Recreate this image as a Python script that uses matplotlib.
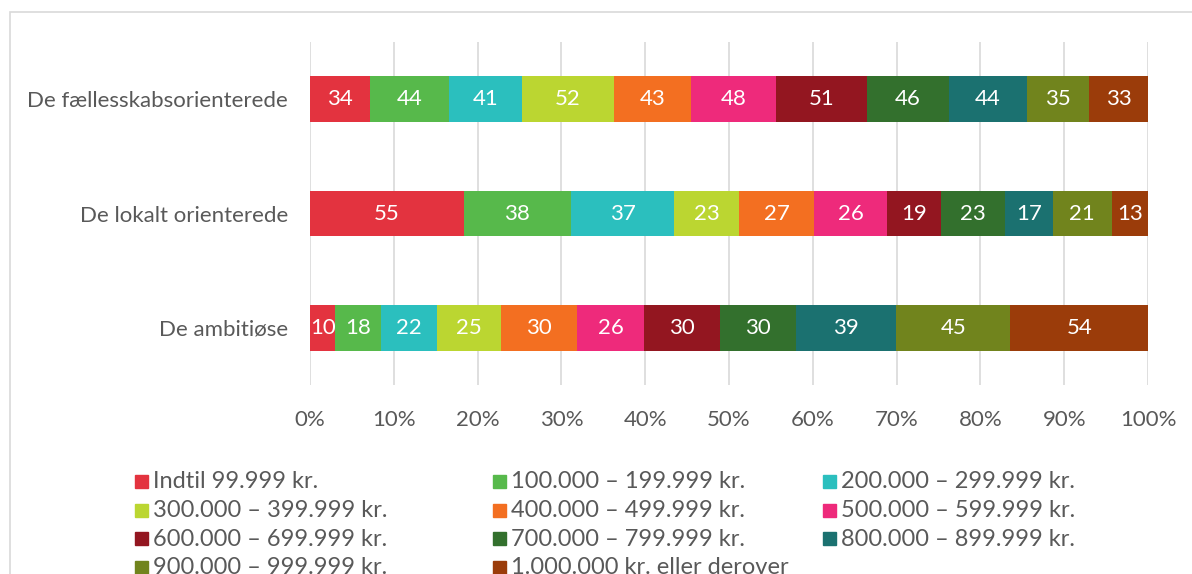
import matplotlib.pyplot as plt
from matplotlib.patches import Rectangle

plt.rcParams['font.family'] = ['Lato', 'DejaVu Sans']

# data
grupper = ["De fællesskabsorienterede", "De lokalt orienterede", "De ambitiøse"]
indkomst = ["Indtil 99.999 kr.", "100.000 – 199.999 kr.", "200.000 – 299.999 kr.",
            "300.000 – 399.999 kr.", "400.000 – 499.999 kr.", "500.000 – 599.999 kr.",
            "600.000 – 699.999 kr.", "700.000 – 799.999 kr.", "800.000 – 899.999 kr.",
            "900.000 – 999.999 kr.", "1.000.000 kr. eller derover"]
faelles = [34, 44, 41, 52, 43, 48, 51, 46, 44, 35, 33]
lokalt = [55, 38, 37, 23, 27, 26, 19, 23, 17, 21, 13]
ambitiose = [10, 18, 22, 25, 30, 26, 30, 30, 39, 45, 54]
farver = ["#E3333F", "#57B94B", "#2BBFBE", "#BBD631", "#F36F21", "#EE2A7B",
          "#931620", "#33702D", "#1B7170", "#71841D", "#9B3C0A"]

rows = [faelles, lokalt, ambitiose]
ypos = [2, 1, 0]
gray = "#595959"

fig = plt.figure(figsize=(11.92, 5.74), dpi=100)
# chart frame
fig.patches.append(Rectangle((10/1192, -0.1), 1.2, 1 - 12.5/574 + 0.1, transform=fig.transFigure,
                             fill=False, edgecolor="#D9D9D9", linewidth=1.2))
ax = fig.add_axes([310/1192, 1 - 385/574, 838/1192, 343/574])

for row, y in zip(rows, ypos):
    tot = sum(row)
    left = 0
    for j, v in enumerate(row):
        w = v / tot
        ax.barh(y, w, left=left, height=0.4, color=farver[j], zorder=3)
        ax.text(left + w / 2, y, str(v), ha="center", va="center", color="white", fontsize=16, zorder=4)
        left += w

ax.set_xlim(0, 1)
ax.set_ylim(-0.5, 2.5)
ax.set_xticks([i / 10 for i in range(11)])
ax.set_xticklabels([f"{i*10}%" for i in range(11)], fontsize=16, color=gray)
ax.set_yticks(ypos)
ax.set_yticklabels(grupper, fontsize=16, color=gray)
ax.tick_params(axis="x", length=0, pad=18)
ax.tick_params(axis="y", length=0, pad=16)
ax.grid(axis="x", color="#D9D9D9", linewidth=1.2, zorder=0)
for s in ax.spines.values():
    s.set_visible(False)

# legend, row-wise as in the original
col_x = [135, 493, 823]
for i, lab in enumerate(indkomst):
    r, c = i // 3, i % 3
    yc = 482 + r * 28.5
    fig.patches.append(Rectangle((col_x[c] / 1192, 1 - (yc + 6) / 574), 13 / 1192, 13 / 574,
                                 transform=fig.transFigure, color=farver[i]))
    fig.text((col_x[c] + 18) / 1192, 1 - yc / 574, lab, fontsize=17, color=gray, va="center")

fig.savefig("out.png", dpi=100)
